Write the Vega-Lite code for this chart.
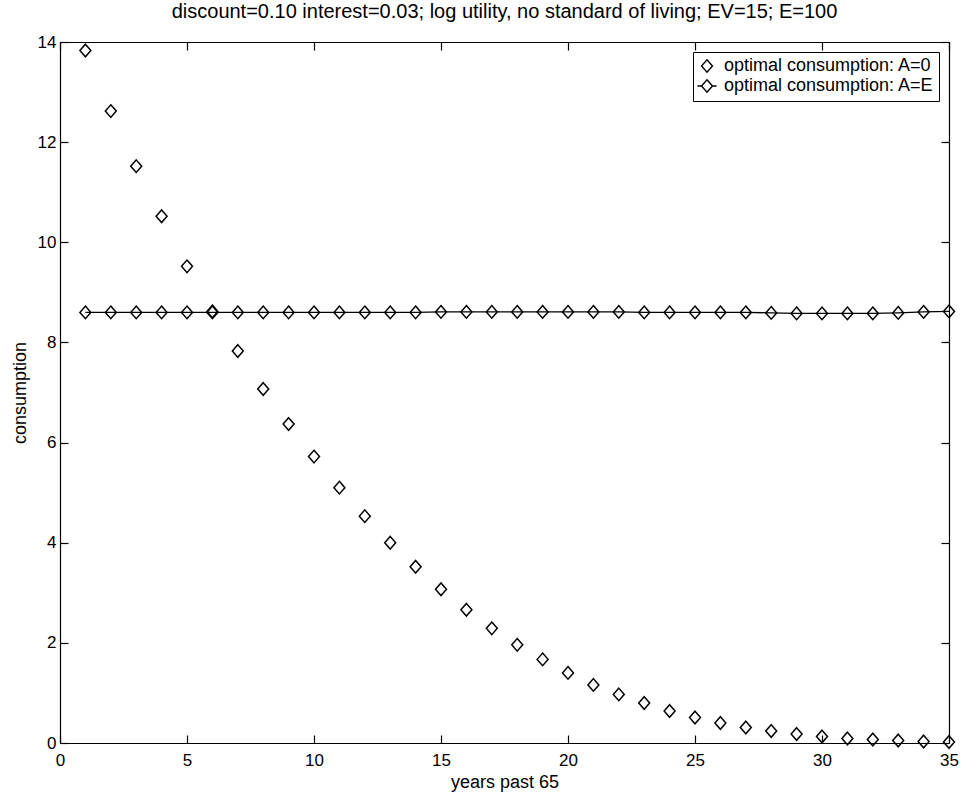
{
  "$schema": "https://vega.github.io/schema/vega-lite/v6.json",
  "autosize": {"type": "none"},
  "width": 889,
  "height": 701,
  "padding": {"left": 60, "top": 42, "right": 15, "bottom": 59},
  "background": "white",
  "config": {
    "font": "Liberation Sans",
    "view": {"stroke": "black", "strokeWidth": 1},
    "axis": {
      "grid": false,
      "domainColor": "black",
      "domainWidth": 1.2,
      "tickColor": "black",
      "tickWidth": 1.2,
      "tickSize": -8,
      "labelColor": "black",
      "titleColor": "black",
      "labelFont": "Liberation Sans",
      "titleFont": "Liberation Sans",
      "labelFontSize": 17,
      "titleFontSize": 18,
      "titleFontWeight": "normal"
    }
  },
  "title": {
    "text": "discount=0.10 interest=0.03; log utility, no standard of living; EV=15; E=100",
    "font": "Liberation Sans",
    "fontSize": 20,
    "fontWeight": "normal",
    "color": "black",
    "anchor": "middle",
    "frame": "group",
    "offset": 11
  },
  "data": {
    "values": [
      {"year": 1, "consumption": 13.83, "series": "optimal consumption: A=0"},
      {"year": 2, "consumption": 12.62, "series": "optimal consumption: A=0"},
      {"year": 3, "consumption": 11.52, "series": "optimal consumption: A=0"},
      {"year": 4, "consumption": 10.52, "series": "optimal consumption: A=0"},
      {"year": 5, "consumption": 9.52, "series": "optimal consumption: A=0"},
      {"year": 6, "consumption": 8.62, "series": "optimal consumption: A=0"},
      {"year": 7, "consumption": 7.83, "series": "optimal consumption: A=0"},
      {"year": 8, "consumption": 7.07, "series": "optimal consumption: A=0"},
      {"year": 9, "consumption": 6.37, "series": "optimal consumption: A=0"},
      {"year": 10, "consumption": 5.72, "series": "optimal consumption: A=0"},
      {"year": 11, "consumption": 5.10, "series": "optimal consumption: A=0"},
      {"year": 12, "consumption": 4.53, "series": "optimal consumption: A=0"},
      {"year": 13, "consumption": 4.00, "series": "optimal consumption: A=0"},
      {"year": 14, "consumption": 3.52, "series": "optimal consumption: A=0"},
      {"year": 15, "consumption": 3.07, "series": "optimal consumption: A=0"},
      {"year": 16, "consumption": 2.66, "series": "optimal consumption: A=0"},
      {"year": 17, "consumption": 2.29, "series": "optimal consumption: A=0"},
      {"year": 18, "consumption": 1.96, "series": "optimal consumption: A=0"},
      {"year": 19, "consumption": 1.67, "series": "optimal consumption: A=0"},
      {"year": 20, "consumption": 1.40, "series": "optimal consumption: A=0"},
      {"year": 21, "consumption": 1.16, "series": "optimal consumption: A=0"},
      {"year": 22, "consumption": 0.97, "series": "optimal consumption: A=0"},
      {"year": 23, "consumption": 0.80, "series": "optimal consumption: A=0"},
      {"year": 24, "consumption": 0.64, "series": "optimal consumption: A=0"},
      {"year": 25, "consumption": 0.51, "series": "optimal consumption: A=0"},
      {"year": 26, "consumption": 0.40, "series": "optimal consumption: A=0"},
      {"year": 27, "consumption": 0.31, "series": "optimal consumption: A=0"},
      {"year": 28, "consumption": 0.24, "series": "optimal consumption: A=0"},
      {"year": 29, "consumption": 0.18, "series": "optimal consumption: A=0"},
      {"year": 30, "consumption": 0.13, "series": "optimal consumption: A=0"},
      {"year": 31, "consumption": 0.09, "series": "optimal consumption: A=0"},
      {"year": 32, "consumption": 0.07, "series": "optimal consumption: A=0"},
      {"year": 33, "consumption": 0.05, "series": "optimal consumption: A=0"},
      {"year": 34, "consumption": 0.03, "series": "optimal consumption: A=0"},
      {"year": 35, "consumption": 0.02, "series": "optimal consumption: A=0"},
      {"year": 1, "consumption": 8.6, "series": "optimal consumption: A=E"},
      {"year": 2, "consumption": 8.6, "series": "optimal consumption: A=E"},
      {"year": 3, "consumption": 8.6, "series": "optimal consumption: A=E"},
      {"year": 4, "consumption": 8.6, "series": "optimal consumption: A=E"},
      {"year": 5, "consumption": 8.6, "series": "optimal consumption: A=E"},
      {"year": 6, "consumption": 8.6, "series": "optimal consumption: A=E"},
      {"year": 7, "consumption": 8.6, "series": "optimal consumption: A=E"},
      {"year": 8, "consumption": 8.6, "series": "optimal consumption: A=E"},
      {"year": 9, "consumption": 8.6, "series": "optimal consumption: A=E"},
      {"year": 10, "consumption": 8.6, "series": "optimal consumption: A=E"},
      {"year": 11, "consumption": 8.6, "series": "optimal consumption: A=E"},
      {"year": 12, "consumption": 8.6, "series": "optimal consumption: A=E"},
      {"year": 13, "consumption": 8.6, "series": "optimal consumption: A=E"},
      {"year": 14, "consumption": 8.6, "series": "optimal consumption: A=E"},
      {"year": 15, "consumption": 8.61, "series": "optimal consumption: A=E"},
      {"year": 16, "consumption": 8.61, "series": "optimal consumption: A=E"},
      {"year": 17, "consumption": 8.61, "series": "optimal consumption: A=E"},
      {"year": 18, "consumption": 8.61, "series": "optimal consumption: A=E"},
      {"year": 19, "consumption": 8.61, "series": "optimal consumption: A=E"},
      {"year": 20, "consumption": 8.61, "series": "optimal consumption: A=E"},
      {"year": 21, "consumption": 8.61, "series": "optimal consumption: A=E"},
      {"year": 22, "consumption": 8.61, "series": "optimal consumption: A=E"},
      {"year": 23, "consumption": 8.6, "series": "optimal consumption: A=E"},
      {"year": 24, "consumption": 8.6, "series": "optimal consumption: A=E"},
      {"year": 25, "consumption": 8.6, "series": "optimal consumption: A=E"},
      {"year": 26, "consumption": 8.6, "series": "optimal consumption: A=E"},
      {"year": 27, "consumption": 8.6, "series": "optimal consumption: A=E"},
      {"year": 28, "consumption": 8.59, "series": "optimal consumption: A=E"},
      {"year": 29, "consumption": 8.58, "series": "optimal consumption: A=E"},
      {"year": 30, "consumption": 8.58, "series": "optimal consumption: A=E"},
      {"year": 31, "consumption": 8.58, "series": "optimal consumption: A=E"},
      {"year": 32, "consumption": 8.58, "series": "optimal consumption: A=E"},
      {"year": 33, "consumption": 8.59, "series": "optimal consumption: A=E"},
      {"year": 34, "consumption": 8.61, "series": "optimal consumption: A=E"},
      {"year": 35, "consumption": 8.62, "series": "optimal consumption: A=E"}
    ]
  },
  "layer": [
    {
      "layer": [
        {
          "transform": [{"filter": "datum.series === 'optimal consumption: A=E'"}],
          "mark": {"type": "line", "color": "black", "strokeWidth": 1.3},
          "encoding": {
            "x": {"field": "year", "type": "quantitative"},
            "y": {"field": "consumption", "type": "quantitative"}
          }
        },
        {
          "transform": [{"filter": "datum.series === 'optimal consumption: A=E'"}],
          "mark": {"type": "point", "filled": false, "color": "black", "strokeWidth": 1.5, "size": 120, "opacity": 1, "shape": "M0,-1.15L1,0L0,1.15L-1,0Z"},
          "encoding": {
            "x": {"field": "year", "type": "quantitative"},
            "y": {"field": "consumption", "type": "quantitative"}
          }
        },
        {
          "transform": [{"filter": "datum.series === 'optimal consumption: A=0'"}],
          "mark": {"type": "point", "filled": false, "color": "black", "strokeWidth": 1.5, "size": 120, "opacity": 1},
          "encoding": {
            "x": {"field": "year", "type": "quantitative"},
            "y": {"field": "consumption", "type": "quantitative"},
            "shape": {
              "field": "series",
              "type": "nominal",
              "scale": {
                "domain": ["optimal consumption: A=0", "optimal consumption: A=E"],
                "range": ["M0,-1.15L1,0L0,1.15L-1,0Z", "M0,-1.15L1,0L0,1.15L-1,0Z M-1.75,0L-1,0 M1,0L1.75,0"]
              },
              "legend": {
                "title": null,
                "orient": "top-right",
                "offset": 10,
                "strokeColor": "black",
                "fillColor": "white",
                "padding": 5,
                "labelFont": "Liberation Sans",
                "labelFontSize": 18,
                "labelColor": "black",
                "labelOffset": 8,
                "symbolSize": 120,
                "symbolStrokeColor": "black",
                "symbolStrokeWidth": 1.4,
                "symbolFillColor": "transparent",
                "rowPadding": 0,
                "labelLimit": 400
              }
            }
          }
        }
      ],
      "encoding": {
        "x": {
          "field": "year", "type": "quantitative",
          "scale": {"domain": [0, 35], "nice": false, "zero": false},
          "axis": {"title": "years past 65", "orient": "bottom", "values": [0, 5, 10, 15, 20, 25, 30, 35], "labelPadding": 17, "titlePadding": 5, "labelFlush": false}
        },
        "y": {
          "field": "consumption", "type": "quantitative",
          "scale": {"domain": [0, 14], "nice": false, "zero": false},
          "axis": {"title": "consumption", "orient": "left", "values": [0, 2, 4, 6, 8, 10, 12, 14], "labelPadding": 12, "titlePadding": 8, "labelFlush": false}
        }
      }
    },
    {
      "mark": {"type": "point", "opacity": 0},
      "encoding": {
        "x": {
          "field": "year", "type": "quantitative",
          "scale": {"domain": [0, 35], "nice": false, "zero": false},
          "axis": {"orient": "top", "title": null, "labels": false, "values": [0, 5, 10, 15, 20, 25, 30, 35]}
        },
        "y": {
          "field": "consumption", "type": "quantitative",
          "scale": {"domain": [0, 14], "nice": false, "zero": false},
          "axis": {"orient": "right", "title": null, "labels": false, "values": [0, 2, 4, 6, 8, 10, 12, 14]}
        }
      }
    }
  ],
  "resolve": {"scale": {"x": "independent", "y": "independent"}}
}
